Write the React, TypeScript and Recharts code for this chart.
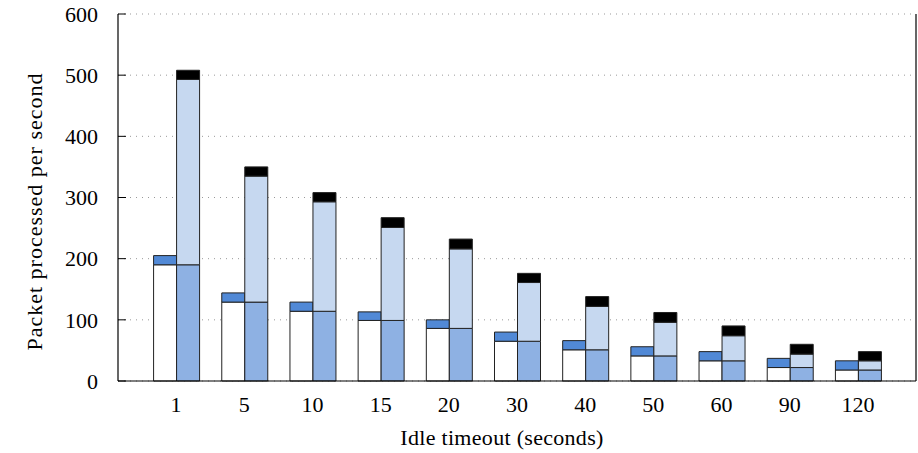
import { Bar, BarChart, CartesianGrid, XAxis, YAxis } from 'recharts';

// idle timeout categories (seconds)
const timeouts = ['1', '5', '10', '15', '20', '30', '40', '50', '60', '90', '120'];

// left bar: base (white) + extra segment (blue)
const leftBase = [190, 129, 114, 99, 86, 65, 51, 41, 33, 22, 18];
const leftExtra = [15, 15, 15, 14, 14, 15, 15, 15, 15, 15, 15];

// right bar: base (mid blue) + added (light blue) + overhead (black)
const rightBase = [190, 129, 114, 99, 86, 65, 51, 41, 33, 22, 18];
const rightAdded = [303, 206, 179, 152, 130, 96, 71, 55, 41, 22, 15];
const rightTop = [15, 15, 15, 16, 16, 15, 16, 16, 16, 16, 15];

const yTicks = [0, 100, 200, 300, 400, 500, 600];

const data = timeouts.map((t, i) => ({
	timeout: t,
	leftBase: leftBase[i],
	leftExtra: leftExtra[i],
	rightBase: rightBase[i],
	rightAdded: rightAdded[i],
	rightTop: rightTop[i],
}));

const FONT = '"Liberation Serif", "Times New Roman", serif';
const tickStyle = { fontFamily: FONT, fontSize: 22, fill: '#000' };

const YLabel = (props: any) => {
	const { viewBox } = props;
	const cx = viewBox.x + 34;
	const cy = viewBox.y + viewBox.height / 2 + 14;
	return (
		<text
			x={cx}
			y={cy}
			transform={`rotate(-90, ${cx}, ${cy})`}
			textAnchor="middle"
			dominantBaseline="central"
			fontFamily={FONT}
			fontSize={22}
			letterSpacing={1}
			fill="#000"
		>
			Packet processed per second
		</text>
	);
};

const XLabel = (props: any) => {
	const { viewBox } = props;
	const cx = viewBox.x + viewBox.width / 2 - 15;
	const y = viewBox.y + viewBox.height - 8;
	return (
		<text
			x={cx}
			y={y}
			textAnchor="middle"
			fontFamily={FONT}
			fontSize={22}
			letterSpacing={0.3}
			fill="#000"
		>
			Idle timeout (seconds)
		</text>
	);
};

export default function App() {
	return (
		<div style={{ position: 'absolute', left: 0, top: 0, background: '#fff' }}>
			<BarChart
				width={918}
				height={453}
				data={data}
				margin={{ top: 14, right: 0, bottom: 0, left: 0 }}
				barGap={0}
				barCategoryGap="17%"
			>
				<CartesianGrid
					vertical={false}
					stroke="#999"
					strokeDasharray="1 5"
				/>
				<XAxis
					dataKey="timeout"
					height={72}
					padding={{ left: 24, right: 24 }}
					tickLine={false}
					tickSize={0}
					tickMargin={15}
					tick={tickStyle}
					axisLine={{ stroke: '#000', strokeWidth: 1.2 }}
					label={<XLabel />}
				/>
				<XAxis
					xAxisId="top"
					dataKey="timeout"
					orientation="top"
					height={0}
					padding={{ left: 24, right: 24 }}
					tick={false}
					tickSize={-8}
					tickLine={{ stroke: '#000' }}
					axisLine={{ stroke: '#000', strokeWidth: 1.2 }}
				/>
				<YAxis
					width={118}
					domain={[0, 600]}
					ticks={yTicks}
					tickSize={-8}
					tickMargin={28}
					tick={tickStyle}
					tickLine={{ stroke: '#000' }}
					axisLine={{ stroke: '#000', strokeWidth: 1.2 }}
					label={<YLabel />}
				/>
				<YAxis
					yAxisId="right"
					orientation="right"
					width={2}
					domain={[0, 600]}
					ticks={yTicks}
					tickSize={-8}
					tick={false}
					tickLine={{ stroke: '#000' }}
					axisLine={{ stroke: '#000', strokeWidth: 1.2 }}
				/>
				<Bar dataKey="leftBase" stackId="a" fill="#ffffff" stroke="#222" isAnimationActive={false} />
				<Bar dataKey="leftExtra" stackId="a" fill="#5189d6" stroke="#222" isAnimationActive={false} />
				<Bar dataKey="rightBase" stackId="b" fill="#8eb1e3" stroke="#222" isAnimationActive={false} />
				<Bar dataKey="rightAdded" stackId="b" fill="#c6d8f0" stroke="#222" isAnimationActive={false} />
				<Bar dataKey="rightTop" stackId="b" fill="#000000" stroke="#222" isAnimationActive={false} />
			</BarChart>
		</div>
	);
}
